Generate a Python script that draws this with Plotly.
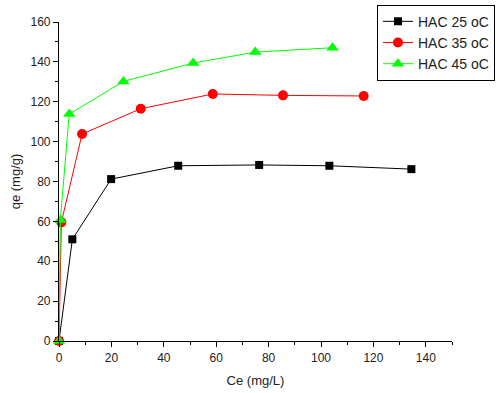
import plotly.graph_objects as go

# Adsorption isotherm data: equilibrium concentration Ce (mg/L) vs uptake qe (mg/g)
ce_25 = [0, 5.1, 19.9, 45.5, 76.4, 103.2, 134.5]
qe_25 = [0, 51.0, 81.2, 87.9, 88.3, 87.9, 86.2]

ce_35 = [0, 0.9, 8.8, 31.2, 58.7, 85.5, 116.3]
qe_35 = [0, 59.5, 103.8, 116.5, 123.9, 123.2, 122.9]

ce_45 = [0, 0.5, 3.9, 24.6, 51.2, 74.9, 104.4]
qe_45 = [0, 60.7, 113.8, 130.2, 139.4, 144.9, 147.1]

series = [
    ("HAC 25 oC", ce_25, qe_25, "#000000", "square", 8),
    ("HAC 35 oC", ce_35, qe_35, "#FF0000", "circle", 10),
    ("HAC 45 oC", ce_45, qe_45, "#00FF00", "triangle-up", 11),
]

fig = go.Figure()
for name, x, y, color, symbol, size in series:
    fig.add_trace(go.Scatter(
        x=x, y=y, name=name, mode="lines+markers",
        line=dict(color=color, width=1),
        marker=dict(symbol=symbol, size=size, color=color),
        cliponaxis=False,
    ))

axis_common = dict(
    showline=True, linecolor="#000000", linewidth=1.2,
    ticks="outside", ticklen=5, tickwidth=1, tickcolor="#000000",
    showgrid=False, zeroline=False,
    tickfont=dict(family="Arial, Liberation Sans", size=12, color="#222222"),
    minor=dict(ticks="outside", ticklen=3, tickcolor="#000000", dtick=10),
)

fig.update_xaxes(
    range=[0, 150], dtick=20, tick0=0,
    title=dict(text="Ce (mg/L)", standoff=12,
               font=dict(family="Arial, Liberation Sans", size=13, color="#222222")),
    **axis_common,
)
fig.update_yaxes(
    range=[0, 160], dtick=20, tick0=0,
    title=dict(text="qe (mg/g)", standoff=6,
               font=dict(family="Arial, Liberation Sans", size=13, color="#222222")),
    **axis_common,
)

fig.update_layout(
    width=498, height=393,
    margin=dict(l=59, r=46, t=22, b=52, autoexpand=False),
    plot_bgcolor="white", paper_bgcolor="white",
    showlegend=True,
    legend=dict(
        xref="container", yref="container",
        x=0.757, y=0.988, xanchor="left", yanchor="top",
        bordercolor="#000000", borderwidth=1, bgcolor="white",
        font=dict(family="Arial, Liberation Sans", size=14, color="#222222"),
        tracegroupgap=0, itemwidth=30,
    ),
)

fig.write_html("out.html")
